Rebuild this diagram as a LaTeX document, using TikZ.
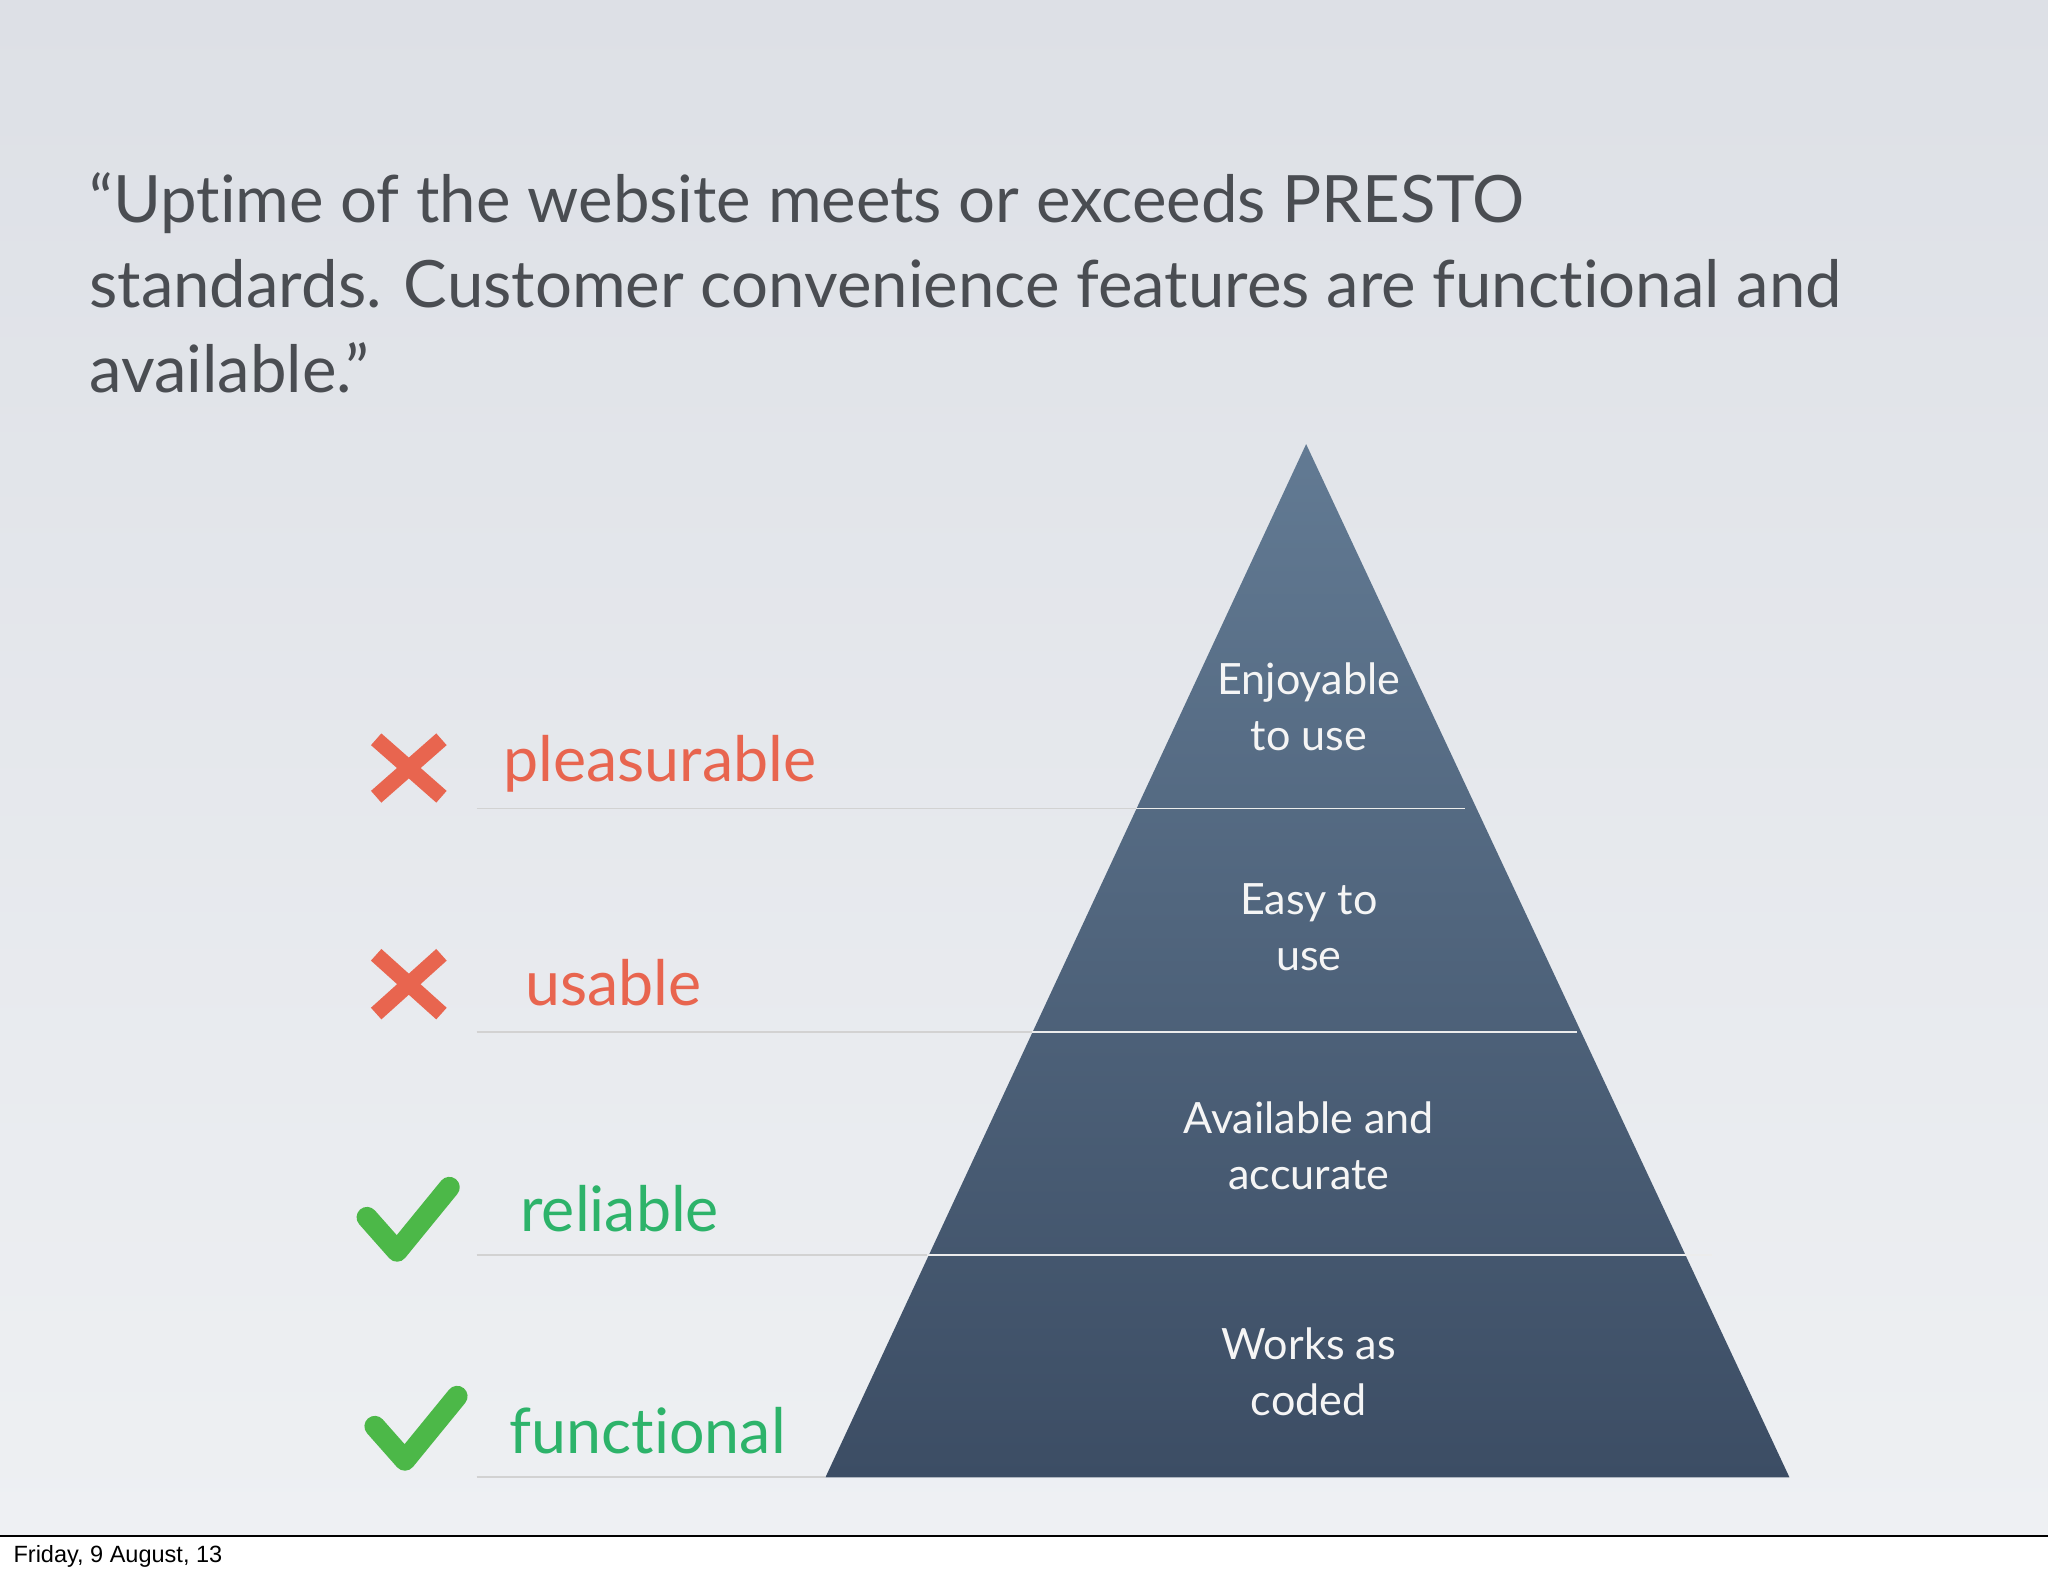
\documentclass[tikz,border=0pt]{standalone}
\usepackage{fontspec}
\setmainfont[Ligatures=NoCommon]{Lato}
\newfontfamily\footfont{Liberation Sans}
\definecolor{titlec}{HTML}{4A4D52}
\definecolor{redc}{HTML}{E8654F}
\definecolor{greenc}{HTML}{4CB848}
\definecolor{greent}{HTML}{2DB36A}
\definecolor{pyrtop}{HTML}{627A93}
\definecolor{pyrbot}{HTML}{3C4D64}
\definecolor{bgtop}{HTML}{DDE0E6}
\definecolor{bgbot}{HTML}{EEF0F3}
\tikzset{
  lbl/.style={anchor=base west,inner sep=0pt,font=\fontsize{24}{28}\selectfont},
  pyr/.style={align=center,text=white!92!gray,font=\fontsize{16.5}{21.5}\selectfont,inner sep=0pt},
  xmark/.style={redc,line width=6pt},
  vmark/.style={greenc,line width=8pt,line cap=round,line join=round},
  rule/.style={gray!35,line width=0.6pt},
  wrule/.style={white!85!gray,line width=0.7pt}
}
\begin{document}
\begin{tikzpicture}[x=0.5pt,y=-0.5pt]
\useasboundingbox (0,0) rectangle (1568,1206);
\fill[white] (0,0) rectangle (1568,1206);
\shade[top color=bgtop, bottom color=bgbot] (0,0) rectangle (1568,1176);
\draw[black,line width=0.6pt] (0,1176) -- (1568,1176);
\node[anchor=base west,inner sep=0pt,font=\footfont\fontsize{9}{11}\selectfont] (foot) at (10,1196) {Friday, 9 August, 13};
% title
\node[anchor=north west,align=left,inner sep=0pt,text=titlec,font=\fontsize{25}{32.5}\selectfont] (title) at (68,132)
 {“Uptime of the website meets or exceeds PRESTO\\standards. Customer convenience features are functional and\\available.”};
% pyramid
\coordinate (apex) at (1000,340);
\coordinate (bl) at (632,1131);
\coordinate (br) at (1370,1131);
\shade[top color=pyrtop,bottom color=pyrbot] (apex) -- (br) -- (bl) -- cycle;
\coordinate (l1) at (365,619); \coordinate (p1) at (870,619); \coordinate (e1) at (1122,619);
\coordinate (l2) at (365,790); \coordinate (p2) at (790,790); \coordinate (e2) at (1207,790);
\coordinate (l3) at (365,961); \coordinate (p3) at (710,961); \coordinate (e3) at (1311,961);
\coordinate (l4) at (365,1131);
\draw[rule] (l1) -- (p1); \draw[wrule] (p1) -- (e1);
\draw[rule] (l2) -- (p2); \draw[wrule] (p2) -- (e2);
\draw[rule] (l3) -- (p3); \draw[wrule] (p3) -- (e3);
\draw[rule] (l4) -- (bl);
\node[pyr] (t1) at (1002,541) {Enjoyable\\to use};
\node[pyr] (t2) at (1002,710) {Easy to\\use};
\node[pyr] (t3) at (1002,877) {Available and\\accurate};
\node[pyr] (t4) at (1002,1050) {Works as\\coded};
% labels
\node[lbl,text=redc] (a1) at (385,598) {pleasurable};
\node[lbl,text=redc] (a2) at (402,770) {usable};
\node[lbl,text=greent] (a3) at (398,943) {reliable};
\node[lbl,text=greent] (a4) at (390,1113) {functional};
% marks
\draw[xmark] (288,566) -- (338,610) (338,566) -- (288,610);
\draw[xmark] (288,731) -- (338,776) (338,731) -- (288,776);
\draw[vmark] (281,932) -- (304,958) -- (344,909);
\draw[vmark] (287,1092) -- (310,1118) -- (350,1069);
\end{tikzpicture}
\end{document}
